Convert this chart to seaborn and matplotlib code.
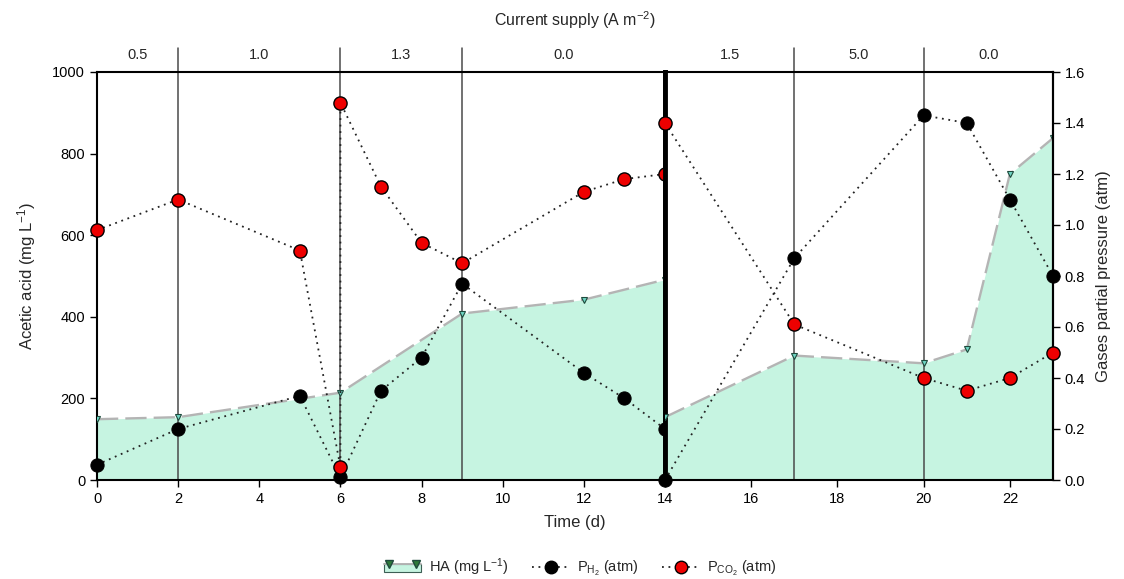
import matplotlib
matplotlib.use("Agg")
import matplotlib.pyplot as plt
import seaborn as sns
from matplotlib.lines import Line2D
from matplotlib.patches import Rectangle
from matplotlib.legend_handler import HandlerBase

# --- DATA ---
ha_days_a = [0, 2, 6, 9, 12, 14]
ha_a = [149, 154, 214, 408, 442, 491]
ha_days_b = [14, 17, 20, 21, 22, 23]
ha_b = [154, 305, 286, 320, 750, 838]

h2_days_a = [0, 2, 5, 6, 7, 8, 9, 12, 13, 14]
h2_a = [0.06, 0.20, 0.33, 0.01, 0.35, 0.48, 0.77, 0.42, 0.32, 0.20]
h2_days_b = [14, 17, 20, 21, 22, 23]
h2_b = [0.0, 0.87, 1.43, 1.40, 1.10, 0.80]

co2_days_a = [0, 2, 5, 6, 6, 7, 8, 9, 12, 13, 14]
co2_a = [0.98, 1.10, 0.90, 0.05, 1.48, 1.15, 0.93, 0.85, 1.13, 1.18, 1.20]
co2_days_b = [14, 17, 20, 21, 22, 23]
co2_b = [1.40, 0.61, 0.40, 0.35, 0.40, 0.50]

bounds_a = [2, 6, 9]
bounds_b = [17, 20]
phase_mid_a = [1, 4, 7.5, 11.5]
phase_cur_a = ["0.5", "1.0", "1.3", "0.0"]
phase_mid_b = [15.5, 18.5, 21.5]
phase_cur_b = ["1.5", "5.0", "0.0"]

# --- STYLE ---
sns.set_style("ticks")
plt.rcParams["font.family"] = ["Liberation Sans", "DejaVu Sans"]
plt.rcParams["mathtext.default"] = "regular"
narrow = ["Liberation Sans Narrow", "Liberation Sans", "DejaVu Sans"]

FILL = "#c6f4e1"
HA_LINE = "#b4b4b4"
RED = "#ee0000"
DOT = (0, (1, 2.6))
W, H = 1124, 579

fig = plt.figure(figsize=(W / 100, H / 100), dpi=100)
bottom = 1 - 480 / H
height = (480 - 72) / H
ax1 = fig.add_axes([97 / W, bottom, (665 - 97) / W, height])
ax1t = ax1.twinx()
ax2 = fig.add_axes([665 / W, bottom, (1053 - 665) / W, height])
ax2t = ax2.twinx()


def draw_panel(ax, axt, ha_d, ha, h2_d, h2, co2_d, co2, bounds, mids, labels):
    ax.fill_between(ha_d, 0, ha, color=FILL, lw=0, zorder=1)
    sns.lineplot(x=ha_d, y=ha, ax=ax, estimator=None, sort=False,
                 color=HA_LINE, lw=1.7, linestyle=(0, (9, 3)),
                 marker="v", markersize=5, markerfacecolor="#6fd6c4",
                 markeredgecolor="#1e4a3c", markeredgewidth=0.8, zorder=3)
    for b in bounds:
        ax.axvline(b, ymin=0, ymax=1 + 24 / 408, color="#4a4a4a", lw=1.1,
                   clip_on=False, zorder=2)
    for m, lab in zip(mids, labels):
        ax.text(m, 1.042, lab, transform=ax.get_xaxis_transform(),
                ha="center", va="center", fontsize=10.5, family=narrow)

    sns.lineplot(x=h2_d, y=h2, ax=axt, estimator=None, sort=False,
                 color="#222222", lw=1.3, linestyle=DOT, marker="o",
                 markersize=9.5, markerfacecolor="black",
                 markeredgecolor="black", zorder=4)
    sns.lineplot(x=co2_d, y=co2, ax=axt, estimator=None, sort=False,
                 color="#222222", lw=1.3, linestyle=DOT, marker="o",
                 markersize=9.5, markerfacecolor=RED,
                 markeredgecolor="black", markeredgewidth=1, zorder=4)
    for ln in axt.lines:
        ln.set_clip_on(False)

    ax.set_ylim(0, 1000)
    axt.set_ylim(0, 1.6)
    ax.set_xlabel("")
    ax.set_ylabel("")
    axt.set_ylabel("")
    for s in axt.spines.values():
        s.set_visible(False)
    for s in ax.spines.values():
        s.set_color("black")
        s.set_linewidth(1.5)


draw_panel(ax1, ax1t, ha_days_a, ha_a, h2_days_a, h2_a, co2_days_a, co2_a,
           bounds_a, phase_mid_a, phase_cur_a)
draw_panel(ax2, ax2t, ha_days_b, ha_b, h2_days_b, h2_b, co2_days_b, co2_b,
           bounds_b, phase_mid_b, phase_cur_b)

# left panel axes
ax1.set_xlim(0, 14)
ax1.set_xticks(range(0, 15, 2))
ax1.set_yticks(range(0, 1001, 200))
ax1.spines["right"].set_linewidth(3.5)
ax1.tick_params(axis="both", direction="out", length=5, width=1,
                labelsize=10.5, colors="black")
ax1t.set_yticks([])
ax1.set_ylabel("Acetic acid (mg L$^{-1}$)", fontsize=12, labelpad=10)

# right panel axes
ax2.set_xlim(14, 23)
ax2.set_xticks([16, 18, 20, 22])
ax2.set_yticks([])
ax2.spines["left"].set_linewidth(3.5)
ax2.tick_params(axis="x", direction="out", length=5, width=1,
                labelsize=10.5, colors="black")
ax2t.spines["right"].set_visible(True)
ax2t.spines["right"].set_linewidth(1.5)
ax2t.spines["right"].set_color("black")
ax2t.set_yticks([0.0, 0.2, 0.4, 0.6, 0.8, 1.0, 1.2, 1.4, 1.6])
ax2t.set_yticklabels([f"{v:.1f}" for v in ax2t.get_yticks()])
ax2t.tick_params(axis="y", direction="out", length=5, width=1,
                 labelsize=10.5, colors="black")
ax2t.set_ylabel("Gases partial pressure (atm)", fontsize=12, labelpad=8)

fig.text(575 / W, 1 - 523 / H, "Time (d)", ha="center", va="center",
         fontsize=12)
fig.text(575 / W, 1 - 20 / H, "Current supply (A m$^{-2}$)", ha="center",
         va="center", fontsize=11.5, family=narrow)


# legend: area swatch with the triangle markers sitting on its top edge
class AreaHandler(HandlerBase):
    def create_artists(self, legend, orig_handle, xdescent, ydescent,
                       width, height, fontsize, trans):
        x0, y0 = -xdescent, -ydescent
        top = y0 + height * 0.8
        rect = Rectangle((x0, y0), width, height * 0.8, facecolor=FILL,
                         edgecolor="#3d5f55", lw=0.8, transform=trans)
        edge = Line2D([x0, x0 + width], [top, top], color=HA_LINE, lw=1.4,
                      transform=trans)
        marks = Line2D([x0 + width * 0.15, x0 + width * 0.85], [top, top],
                       lw=0, marker="v", markersize=6,
                       markerfacecolor="#2f7a3a", markeredgecolor="#1e4a3c",
                       transform=trans)
        return [rect, edge, marks]


ha_h = Rectangle((0, 0), 1, 1, facecolor=FILL)
h2_h = Line2D([], [], color="#222222", lw=1.3, linestyle=DOT, marker="o",
              markersize=9, markerfacecolor="black", markeredgecolor="black")
co2_h = Line2D([], [], color="#222222", lw=1.3, linestyle=DOT, marker="o",
               markersize=9, markerfacecolor=RED, markeredgecolor="black")
fig.legend(
    [ha_h, h2_h, co2_h],
    ["HA (mg L$^{-1}$)", "P$_{H_2}$ (atm)", "P$_{CO_2}$ (atm)"],
    handler_map={ha_h: AreaHandler()},
    loc="center", bbox_to_anchor=(580 / W, 1 - 567 / H), ncol=3,
    frameon=False, fontsize=10.5, numpoints=1, handlelength=2.6,
    columnspacing=1.6, handletextpad=0.5,
)

fig.savefig("out.png", dpi=100)
